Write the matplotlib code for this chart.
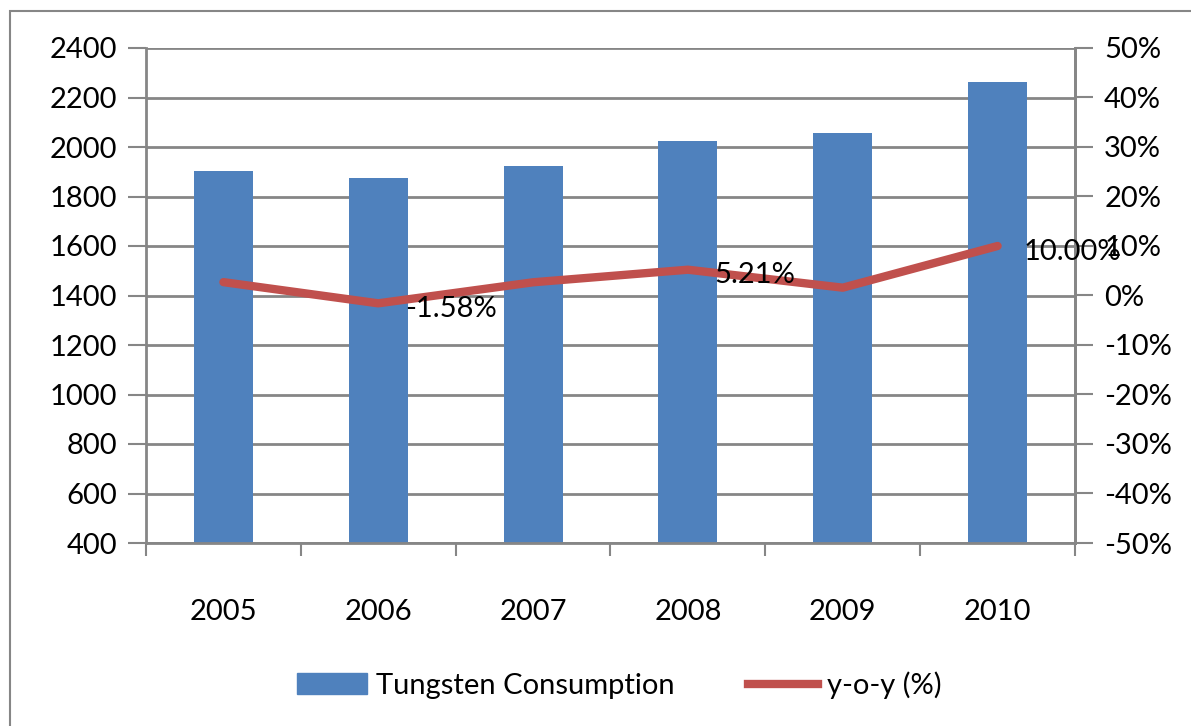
import numpy as np
import matplotlib.pyplot as plt
from matplotlib.patches import Rectangle
from matplotlib.lines import Line2D
from matplotlib.ticker import FuncFormatter

plt.rcParams['font.family'] = ['Lato', 'DejaVu Sans']

years = ['2005', '2006', '2007', '2008', '2009', '2010']
consumption = [1905, 1875, 1925, 2025, 2057, 2263]
yoy = [2.7, -1.58, 2.67, 5.21, 1.58, 10.00]
labelled = [1, 3, 5]  # only these points carry a data label

bar_color = '#4F81BD'
line_color = '#C0504D'
grid_color = '#868686'
fs = 21

fig = plt.figure(figsize=(11.91, 7.26), dpi=100)
# outer chart frame
fig.patches.append(Rectangle((10 / 1191, -0.05), 1.2, 1 - 11 / 726 + 0.05,
                             transform=fig.transFigure, fill=False,
                             edgecolor=grid_color, linewidth=1.5))

ax = fig.add_axes([146 / 1191, 1 - 543 / 726, (1075 - 146) / 1191, (543 - 48) / 726])
x = np.arange(len(years))
ax.bar(x, consumption, width=0.38, color=bar_color, zorder=2)
ax.set_ylim(400, 2400)
ax.set_yticks(np.arange(400, 2401, 200))
ax.set_xlim(-0.5, len(years) - 0.5)
ax.grid(axis='y', color=grid_color, linewidth=2, zorder=0)
ax.set_axisbelow(True)

# category boundary ticks, labels in the middle
ax.set_xticks(np.arange(-0.5, len(years)), minor=False)
ax.set_xticklabels([])
ax.set_xticks(x, minor=True)
ax.set_xticklabels(years, minor=True)
ax.tick_params(axis='x', which='major', length=9, width=1.5, color=grid_color, direction='out')
ax.tick_params(axis='x', which='minor', length=0, pad=40, labelsize=fs)
ax.tick_params(axis='y', length=13, width=1.5, color=grid_color, labelsize=fs, pad=8)
for s in ['left', 'bottom', 'right']:
    ax.spines[s].set_color(grid_color)
    ax.spines[s].set_linewidth(2)
ax.spines['top'].set_visible(False)

ax2 = ax.twinx()
ax2.plot(x, yoy, color=line_color, linewidth=6, solid_capstyle='round', zorder=3)
ax2.set_ylim(-50, 50)
ax2.set_yticks(np.arange(-50, 51, 10))
ax2.yaxis.set_major_formatter(FuncFormatter(lambda v, p: '{:.0f}%'.format(v)))
ax2.tick_params(axis='y', length=13, width=1.5, color=grid_color, labelsize=fs, pad=8)
for s in ['left', 'top', 'bottom']:
    ax2.spines[s].set_visible(False)
ax2.spines['right'].set_color(grid_color)
ax2.spines['right'].set_linewidth(2)

for i in labelled:
    ax2.annotate('{:.2f}%'.format(yoy[i]), xy=(x[i], yoy[i]), xytext=(19, -4),
                 textcoords='offset points', ha='left', va='center', fontsize=fs, zorder=4)

handles = [Rectangle((0, 0), 1, 1, color=bar_color),
           Line2D([0], [0], color=line_color, linewidth=6)]
fig.legend(handles, ['Tungsten Consumption', 'y-o-y (%)'], loc='center',
           bbox_to_anchor=(0.52, 1 - 685 / 726), ncol=2, frameon=False,
           fontsize=fs, handlelength=2.4, handletextpad=0.3, columnspacing=2.5)

fig.savefig('out.png', dpi=100)
